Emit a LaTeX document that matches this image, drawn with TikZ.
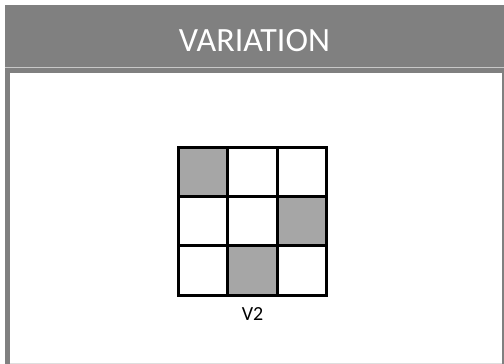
\documentclass[tikz,border=0pt]{standalone}
\usepackage{fontspec}
\setmainfont{Carlito}
\definecolor{hdr}{HTML}{808080}
\definecolor{cellgray}{HTML}{A6A6A6}
\definecolor{sep}{HTML}{C8C8C8}
\tikzset{
  cellbox/.style={draw=black, line width=3pt, minimum width=49.5pt, minimum height=49.3pt, inner sep=0pt, outer sep=0pt, fill=white},
  shaded/.style={cellbox, fill=cellgray}
}
\begin{document}
\begin{tikzpicture}[x=1pt,y=-1pt]
\useasboundingbox (0,0) rectangle (504,364);
\fill[white] (0,0) rectangle (504,364);
% outer gray frame
\fill[hdr] (5,5) rectangle (504,364);
% header separator
\fill[sep] (5,66.5) rectangle (504,68);
% white panel
\fill[white] (10,73) rectangle (502,363);
\fill[sep!60!white] (10,362.8) rectangle (502,364);
% title
\node[text=white, font=\fontsize{34}{40}\selectfont, anchor=base] (title) at (254.5,51) {VARIATION};
% grid
\foreach \r in {0,1,2}{
  \foreach \c in {0,1,2}{
    \node[cellbox] (c\r\c) at ({203+\c*49.5},{172+\r*49.3}) {};
  }
}
\node[shaded] (s00) at (c00) {};
\node[shaded] (s12) at (c12) {};
\node[shaded] (s21) at (c21) {};
\node[font=\fontsize{20}{24}\selectfont, anchor=base] (lbl) at (252.5,320) {V2};
\end{tikzpicture}
\end{document}
